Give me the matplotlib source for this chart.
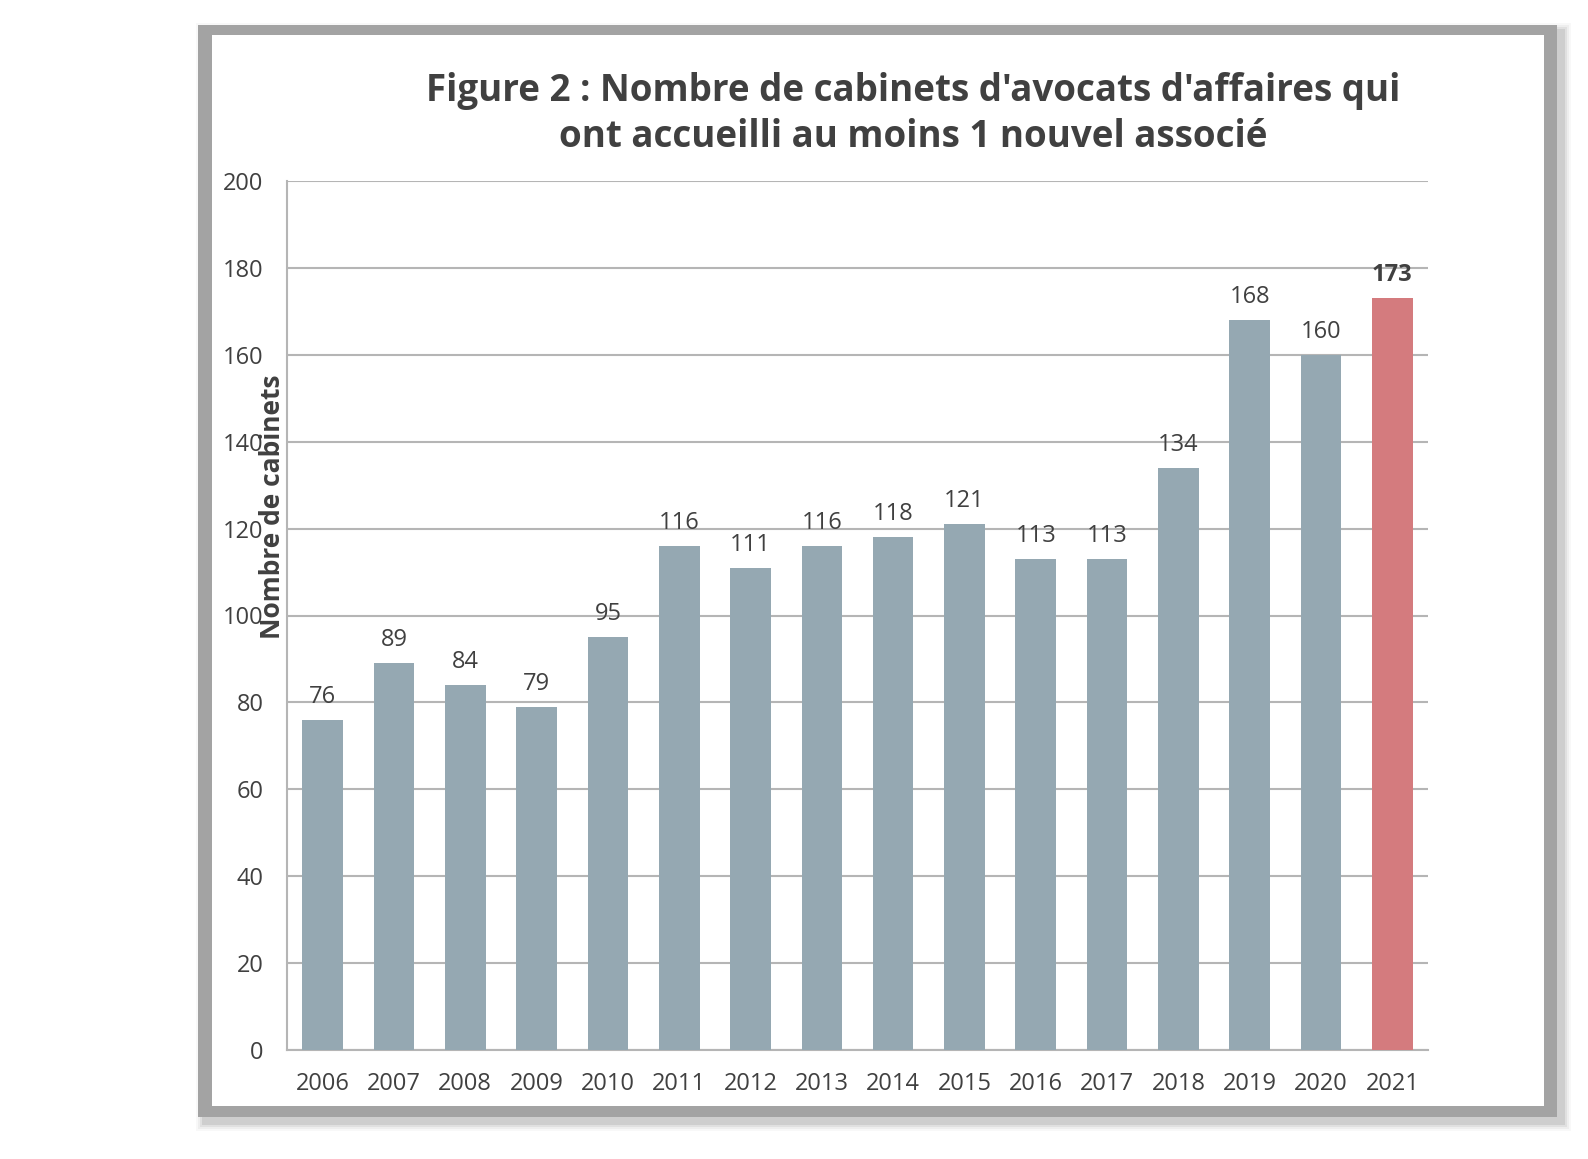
import numpy as np
import matplotlib.pyplot as plt
from matplotlib.patches import Rectangle

years = ['2006', '2007', '2008', '2009', '2010', '2011', '2012', '2013',
         '2014', '2015', '2016', '2017', '2018', '2019', '2020', '2021']
cabinets = [76, 89, 84, 79, 95, 116, 111, 116, 118, 121, 113, 113, 134, 168, 160, 173]
yticks = [0, 20, 40, 60, 80, 100, 120, 140, 160, 180, 200]

W, H = 1588, 1159
fig = plt.figure(figsize=(W / 100, H / 100), dpi=100)
fig.patch.set_facecolor('white')

def px(x0, y0, x1, y1):
    # pixel box (top-left origin) -> figure fraction rect
    return [x0 / W, 1 - y1 / H, (x1 - x0) / W, (y1 - y0) / H]

# frame with soft shadow
for i, a in enumerate([0.05, 0.08, 0.12, 0.18]):
    d = 8 - 2 * i
    r = px(198 - d + 6, 25 - d + 6, 1557 + d + 6, 1117 + d + 6)
    fig.patches.append(Rectangle((r[0], r[1]), r[2], r[3], transform=fig.transFigure,
                                 facecolor='#808080', alpha=a, edgecolor='none', zorder=0))
r = px(198, 25, 1557, 1117)
fig.patches.append(Rectangle((r[0], r[1]), r[2], r[3], transform=fig.transFigure,
                             facecolor='#a3a3a3', edgecolor='none', zorder=1))
r = px(212, 35, 1544, 1106)
fig.patches.append(Rectangle((r[0], r[1]), r[2], r[3], transform=fig.transFigure,
                             facecolor='white', edgecolor='none', zorder=2))

ax = fig.add_axes(px(287, 181, 1428, 1050))
ax.set_facecolor('none')
ax.set_zorder(3)

txt = '#404040'
font = 'Open Sans'
x = np.arange(len(years))
colors = ['#95a8b2'] * (len(years) - 1) + ['#d47b7e']
ax.bar(x, cabinets, width=0.57, color=colors, zorder=3)

for i, v in enumerate(cabinets):
    last = i == len(years) - 1
    ax.annotate(str(v), (x[i], v), xytext=(0, 8), textcoords='offset points',
                ha='center', va='bottom', fontsize=17, color=txt, family=font,
                fontweight='bold' if last else 'normal', zorder=4)

ax.set_xlim(-0.5, len(years) - 0.5)
ax.set_ylim(0, 200)
ax.set_yticks(yticks)
ax.set_xticks(x)
ax.set_xticklabels(years)
ax.yaxis.grid(True, color='#b5b5b5', lw=1.5)
ax.set_axisbelow(True)
for s in ['top', 'right']:
    ax.spines[s].set_visible(False)
for s in ['left', 'bottom']:
    ax.spines[s].set_color('#b5b5b5')
    ax.spines[s].set_linewidth(1.5)
ax.tick_params(length=0, labelsize=17, labelcolor=txt)
ax.tick_params(axis='y', pad=17)
ax.tick_params(axis='x', pad=16)
for lab in ax.get_xticklabels() + ax.get_yticklabels():
    lab.set_family(font)

fig.text(913 / W, 1 - 91 / H, "Figure 2 : Nombre de cabinets d'avocats d'affaires qui",
         ha='center', va='center', fontsize=26.5, fontweight='bold', color=txt, family=font, zorder=5)
fig.text(913 / W, 1 - 137 / H, "ont accueilli au moins 1 nouvel associé",
         ha='center', va='center', fontsize=26.5, fontweight='bold', color=txt, family=font, zorder=5)
fig.text(273 / W, 1 - 507 / H, "Nombre de cabinets", rotation=90, ha='center', va='center',
         fontsize=19, fontweight='bold', color=txt, family=font, zorder=5)

fig.savefig('out.png', dpi=100)
